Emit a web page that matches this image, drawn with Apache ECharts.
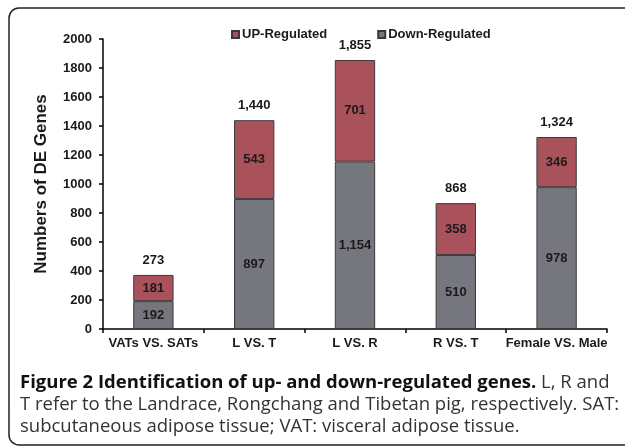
<!DOCTYPE html>
<html>
<head>
<meta charset="utf-8">
<script src="https://cdn.jsdelivr.net/npm/echarts@6/dist/echarts.min.js"></script>
<style>
  html, body { margin: 0; padding: 0; background: #fff; }
  #chart { width: 625px; height: 448px; }
</style>
</head>
<body>
<div id="chart"></div>
<script>
// 分组
const categories = ['VATs VS. SATs', 'L VS. T', 'L VS. R', 'R VS. T', 'Female VS. Male']
// 下调 / 上调
const downValues = [192, 897, 1154, 510, 978]
const upValues = [181, 543, 701, 358, 346]
// 柱顶的总数标签（原图文字）
const totalLabels = ['273', '1,440', '1,855', '868', '1,324']
const yTicks = [0, 200, 400, 600, 800, 1000, 1200, 1400, 1600, 1800, 2000]

const fmt = v => v >= 1000 ? Math.floor(v / 1000) + ',' + String(v % 1000).padStart(3, '0') : String(v)

const capFont = '"Open Sans", sans-serif'

const chart = echarts.init(document.getElementById('chart'))
chart.setOption({
  animation: false,
  textStyle: { fontFamily: 'Liberation Sans, Arial, sans-serif' },
  legend: {
    data: ['UP-Regulated', 'Down-Regulated'],
    top: 23,
    left: 226,
    itemWidth: 7,
    itemHeight: 7,
    itemGap: 50,
    icon: 'rect',
    textStyle: { fontSize: 13, fontWeight: 'bold', color: '#1a1a1a', padding: [0, 0, 0, -2] }
  },
  grid: { left: 103, right: 18, top: 39, bottom: 119 },
  xAxis: {
    type: 'category',
    data: categories,
    axisLine: { lineStyle: { color: '#000', width: 1.5 } },
    axisTick: { show: true, length: 4, lineStyle: { color: '#000', width: 1.5 } },
    axisLabel: { color: '#1a1a1a', fontWeight: 'bold', fontSize: 13, margin: 8, interval: 0 }
  },
  yAxis: {
    type: 'value',
    min: 0,
    max: 2000,
    interval: 200,
    name: 'Numbers of DE Genes',
    nameLocation: 'middle',
    nameGap: 53,
    nameTextStyle: { fontSize: 17, fontWeight: 'bold', color: '#1a1a1a' },
    splitLine: { show: false },
    axisLine: { show: true, lineStyle: { color: '#000', width: 1.5 } },
    axisTick: { show: true, length: 4, lineStyle: { color: '#000', width: 1.5 } },
    axisLabel: {
      color: '#1a1a1a', fontWeight: 'bold', fontSize: 13, margin: 11,
      formatter: v => yTicks.includes(v) ? String(v) : ''
    }
  },
  series: [
    {
      name: 'Down-Regulated',
      type: 'bar',
      stack: 'genes',
      barWidth: '40%',
      data: downValues,
      itemStyle: { color: '#76767e', borderColor: '#3a3a3a', borderWidth: 1 },
      label: {
        show: true, position: 'inside', fontWeight: 'bold', fontSize: 13, color: '#1a1a1a',
        formatter: p => fmt(p.value)
      }
    },
    {
      name: 'UP-Regulated',
      type: 'bar',
      stack: 'genes',
      data: upValues,
      itemStyle: { color: '#aa525c', borderColor: '#3a3a3a', borderWidth: 1 },
      label: {
        show: true, position: 'inside', fontWeight: 'bold', fontSize: 13, color: '#1a1a1a',
        formatter: p => fmt(p.value)
      }
    },
    {
      name: 'total',
      type: 'bar',
      stack: 'genes',
      data: categories.map(() => 0),
      itemStyle: { color: 'transparent' },
      label: {
        show: true, position: 'top', distance: 8, fontWeight: 'bold', fontSize: 13, color: '#1a1a1a',
        formatter: p => totalLabels[p.dataIndex]
      },
      silent: true
    }
  ],
  graphic: [
    {
      type: 'rect',
      shape: { x: 9, y: 8, width: 640, height: 437, r: 10 },
      style: { fill: null, stroke: '#222', lineWidth: 1.5 },
      silent: true
    },
    {
      type: 'text',
      x: 20,
      y: 383,
      style: {
        text: '{b|Figure 2 Identification of up- and down-regulated genes.} L, R and',
        font: '18.5px ' + capFont,
        fill: '#333',
        verticalAlign: 'middle',
        rich: {
          b: { font: 'bold 18.5px ' + capFont, fill: '#111' }
        }
      }
    },
    {
      type: 'text',
      x: 20,
      y: 405,
      style: {
        text: 'T refer to the Landrace, Rongchang and Tibetan pig, respectively. SAT:',
        font: '18.5px ' + capFont,
        fill: '#333',
        verticalAlign: 'middle'
      }
    },
    {
      type: 'text',
      x: 20,
      y: 427,
      style: {
        text: 'subcutaneous adipose tissue; VAT: visceral adipose tissue.',
        font: '18.5px ' + capFont,
        fill: '#333',
        verticalAlign: 'middle'
      }
    }
  ]
})
</script>
</body>
</html>
